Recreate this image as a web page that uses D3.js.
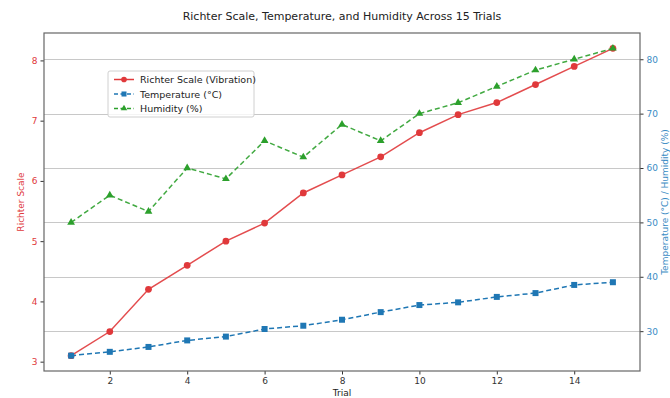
<!DOCTYPE html>
<html>
<head>
<meta charset="utf-8">
<script src="https://cdn.jsdelivr.net/npm/d3@7"></script>
<style>
    body { margin: 0; background: #fff; }
    text { font-family: "DejaVu Sans", sans-serif; }
</style>
</head>
<body>
<svg id="chart"></svg>
<script>
// data
const trials = [1, 2, 3, 4, 5, 6, 7, 8, 9, 10, 11, 12, 13, 14, 15];
const richter = [3.1, 3.5, 4.2, 4.6, 5.0, 5.3, 5.8, 6.1, 6.4, 6.8, 7.1, 7.3, 7.6, 7.9, 8.2];
const temperature = [25.5, 26.2, 27.1, 28.3, 29.0, 30.4, 31.0, 32.1, 33.5, 34.8, 35.3, 36.3, 37.0, 38.5, 39.0];
const humidity = [50, 55, 52, 60, 58, 65, 62, 68, 65, 70, 72, 75, 78, 80, 82];
const xTicks = [2, 4, 6, 8, 10, 12, 14];
const leftTicks = [3, 4, 5, 6, 7, 8];
const rightTicks = [30, 40, 50, 60, 70, 80];

const width = 670;
const height = 398;
const margin = { top: 33, right: 30, bottom: 27, left: 44 };

const red = '#e0393b';
const blue = '#1f77b4';
const blueText = '#3a8bc4';
const green = '#2ca02c';

const svg = d3.select('#chart')
    .attr('width', width)
    .attr('height', height);

// matplotlib style 5% padding
function padded(min, max) {
    const pad = (max - min) * 0.05;
    return [min - pad, max + pad];
}

const x = d3.scaleLinear()
    .domain(padded(1, 15))
    .range([margin.left, width - margin.right]);

const yLeft = d3.scaleLinear()
    .domain(padded(d3.min(richter), d3.max(richter)))
    .range([height - margin.bottom, margin.top]);

const rightMin = Math.min(d3.min(temperature), d3.min(humidity));
const rightMax = Math.max(d3.max(temperature), d3.max(humidity));
const yRight = d3.scaleLinear()
    .domain(padded(rightMin, rightMax))
    .range([height - margin.bottom, margin.top]);

// grid from the right axis
svg.append('g')
    .selectAll('line')
    .data(rightTicks)
    .enter()
    .append('line')
    .attr('x1', margin.left)
    .attr('x2', width - margin.right)
    .attr('y1', d => Math.round(yRight(d)) + 0.5)
    .attr('y2', d => Math.round(yRight(d)) + 0.5)
    .attr('stroke', '#c8c8c8')
    .attr('stroke-width', 1);

// axes
const fmt = d3.format('d');
const xAxis = svg.append('g')
    .attr('transform', 'translate(0,' + (height - margin.bottom) + ')')
    .call(d3.axisBottom(x).tickValues(xTicks).tickFormat(fmt).tickSize(3.5).tickPadding(3));

const leftAxis = svg.append('g')
    .attr('transform', 'translate(' + margin.left + ',0)')
    .call(d3.axisLeft(yLeft).tickValues(leftTicks).tickFormat(fmt).tickSize(3.5).tickPadding(3));

const rightAxis = svg.append('g')
    .attr('transform', 'translate(' + (width - margin.right) + ',0)')
    .call(d3.axisRight(yRight).tickValues(rightTicks).tickFormat(fmt).tickSize(3.5).tickPadding(3));

[xAxis, leftAxis, rightAxis].forEach(g => {
    g.select('.domain').remove();
    g.selectAll('text').style('font-size', '9px');
    g.selectAll('line').attr('stroke', '#333');
});
xAxis.selectAll('text').attr('fill', '#333');
leftAxis.selectAll('text').attr('fill', red);
rightAxis.selectAll('text').attr('fill', blueText);

// frame
svg.append('rect')
    .attr('x', margin.left)
    .attr('y', margin.top)
    .attr('width', width - margin.left - margin.right)
    .attr('height', height - margin.top - margin.bottom)
    .attr('fill', 'none')
    .attr('stroke', '#666')
    .attr('stroke-width', 1.2);

// series
const series = [
    { name: 'Richter Scale (Vibration)', values: richter, scale: yLeft, color: red, dash: null, marker: 'circle' },
    { name: 'Temperature (°C)', values: temperature, scale: yRight, color: blue, dash: '5,3', marker: 'square' },
    { name: 'Humidity (%)', values: humidity, scale: yRight, color: green, dash: '5,3', marker: 'triangle' }
];

function markerPath(type, small) {
    const k = small ? 0.7 : 1;
    if (type === 'circle') return d3.symbol().type(d3.symbolCircle).size(36 * k)();
    if (type === 'square') return d3.symbol().type(d3.symbolSquare).size(36 * k)();
    return d3.symbol().type(d3.symbolTriangle).size(26 * k)();
}

series.forEach(s => {
    const pts = trials.map((t, i) => [x(t), s.scale(s.values[i])]);
    svg.append('path')
        .datum(pts)
        .attr('d', d3.line())
        .attr('fill', 'none')
        .attr('stroke', s.color)
        .attr('stroke-width', 1.5)
        .attr('stroke-dasharray', s.dash)
        .attr('opacity', s.marker === 'square' ? 1 : 0.9);

    svg.append('g')
        .selectAll('path')
        .data(pts)
        .enter()
        .append('path')
        .attr('d', markerPath(s.marker))
        .attr('transform', d => 'translate(' + d[0] + ',' + d[1] + ')')
        .attr('fill', s.color);
});

// legend
const legend = svg.append('g').attr('transform', 'translate(108,71)');
legend.append('rect')
    .attr('width', 146)
    .attr('height', 46)
    .attr('rx', 2)
    .attr('fill', '#fff')
    .attr('fill-opacity', 0.8)
    .attr('stroke', '#d0d0d0');

series.forEach((s, i) => {
    const cy = 8.5 + i * 14.5;
    legend.append('line')
        .attr('x1', 6).attr('x2', 26)
        .attr('y1', cy).attr('y2', cy)
        .attr('stroke', s.color)
        .attr('stroke-width', 1.5)
        .attr('stroke-dasharray', s.dash ? '4,2.5' : null);
    legend.append('path')
        .attr('d', markerPath(s.marker, true))
        .attr('transform', 'translate(16,' + cy + ')')
        .attr('fill', s.color);
    legend.append('text')
        .attr('x', 32)
        .attr('y', cy + 3.5)
        .style('font-size', '9.5px')
        .attr('fill', '#222')
        .text(s.name);
});

// labels
svg.append('text')
    .attr('x', (margin.left + width - margin.right) / 2)
    .attr('y', 20)
    .attr('text-anchor', 'middle')
    .style('font-size', '11px')
    .attr('fill', '#222')
    .text('Richter Scale, Temperature, and Humidity Across 15 Trials');

svg.append('text')
    .attr('x', (margin.left + width - margin.right) / 2)
    .attr('y', 396)
    .attr('text-anchor', 'middle')
    .style('font-size', '9px')
    .attr('fill', '#222')
    .text('Trial');

svg.append('text')
    .attr('transform', 'translate(24,' + ((margin.top + height - margin.bottom) / 2) + ') rotate(-90)')
    .attr('text-anchor', 'middle')
    .style('font-size', '9px')
    .attr('fill', red)
    .text('Richter Scale');

svg.append('text')
    .attr('transform', 'translate(668,' + ((margin.top + height - margin.bottom) / 2) + ') rotate(-90)')
    .attr('text-anchor', 'middle')
    .style('font-size', '9px')
    .attr('fill', blueText)
    .text('Temperature (°C) / Humidity (%)');
</script>
</body>
</html>
